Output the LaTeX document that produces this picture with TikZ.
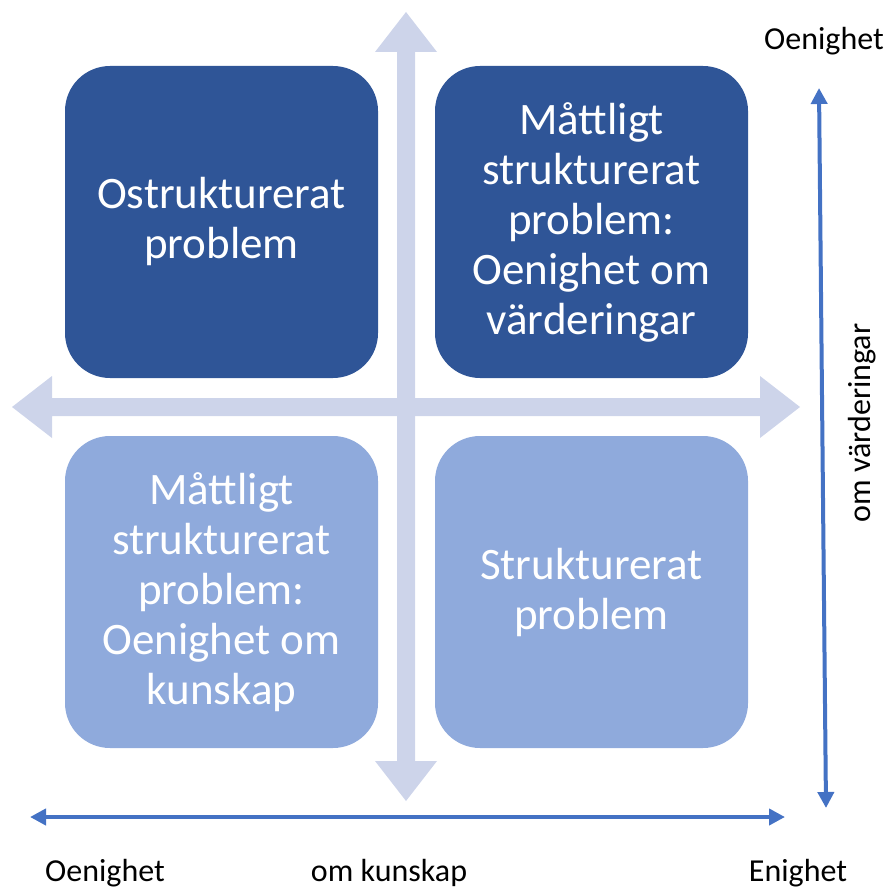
\documentclass[tikz,border=0pt]{standalone}
\usepackage{fontspec}
\setmainfont{Carlito}
\usetikzlibrary{arrows.meta}
\definecolor{darkbox}{HTML}{2F5597}
\definecolor{lightbox}{HTML}{8FAADC}
\definecolor{crossc}{HTML}{CDD4EA}
\definecolor{axisblue}{HTML}{4472C4}
\tikzset{
  quad/.style={rounded corners=45pt, minimum width=313pt, minimum height=312pt, inner sep=0pt,
    text=white, align=center, font=\fontsize{45}{50}\selectfont},
  darkquad/.style={quad, fill=darkbox},
  lightquad/.style={quad, fill=lightbox},
  axis/.style={draw=axisblue, line width=4pt, -{Triangle[width=16pt,length=16pt]}},
  lbl/.style={inner sep=0pt, font=\fontsize{32}{36}\selectfont, text=black},
  crossfill/.style={fill=crossc, draw=none}
}
\begin{document}
\begin{tikzpicture}[x=1pt,y=-1pt]
\useasboundingbox (0,0) rectangle (890,890);
% cross
\fill[crossfill] (397,52) -- (375,52) -- (406,12) -- (437,52) -- (415,52) -- (415,761) -- (437,761) -- (406,801) -- (375,761) -- (397,761) -- cycle;
\fill[crossfill] (52,398) -- (52,376) -- (12,407) -- (52,438) -- (52,416) -- (760,416) -- (760,438) -- (800,407) -- (760,376) -- (760,398) -- cycle;
% boxes
\node[darkquad] (tl) at (221.5,222) {Ostrukturerat\\problem};
\node[darkquad] (tr) at (591.5,222) {Måttligt\\strukturerat\\problem:\\Oenighet om\\värderingar};
\node[lightquad] (bl) at (221.5,592) {Måttligt\\strukturerat\\problem:\\Oenighet om\\kunskap};
\node[lightquad] (br) at (591.5,592) {Strukturerat\\problem};
% axes
\coordinate (vtop) at (819,88);
\coordinate (vbot) at (826,808);
\coordinate (hleft) at (30,817);
\coordinate (hright) at (785,817);
\coordinate (vmid) at (822.5,448);
\coordinate (hmid) at (407.5,817);
\draw[axis] (vmid) -- (vtop);
\draw[axis] (vmid) -- (vbot);
\draw[axis] (hmid) -- (hleft);
\draw[axis] (hmid) -- (hright);
% labels
\node[lbl] (ltop) at (824,41) {Oenighet};
\node[lbl, rotate=90] (lside) at (862,423) {om värderingar};
\node[lbl, anchor=base] (lbl1) at (105,881) {Oenighet};
\node[lbl, anchor=base] (lbl2) at (389,881) {om kunskap};
\node[lbl, anchor=base] (lbl3) at (798,881) {Enighet};
\end{tikzpicture}
\end{document}
